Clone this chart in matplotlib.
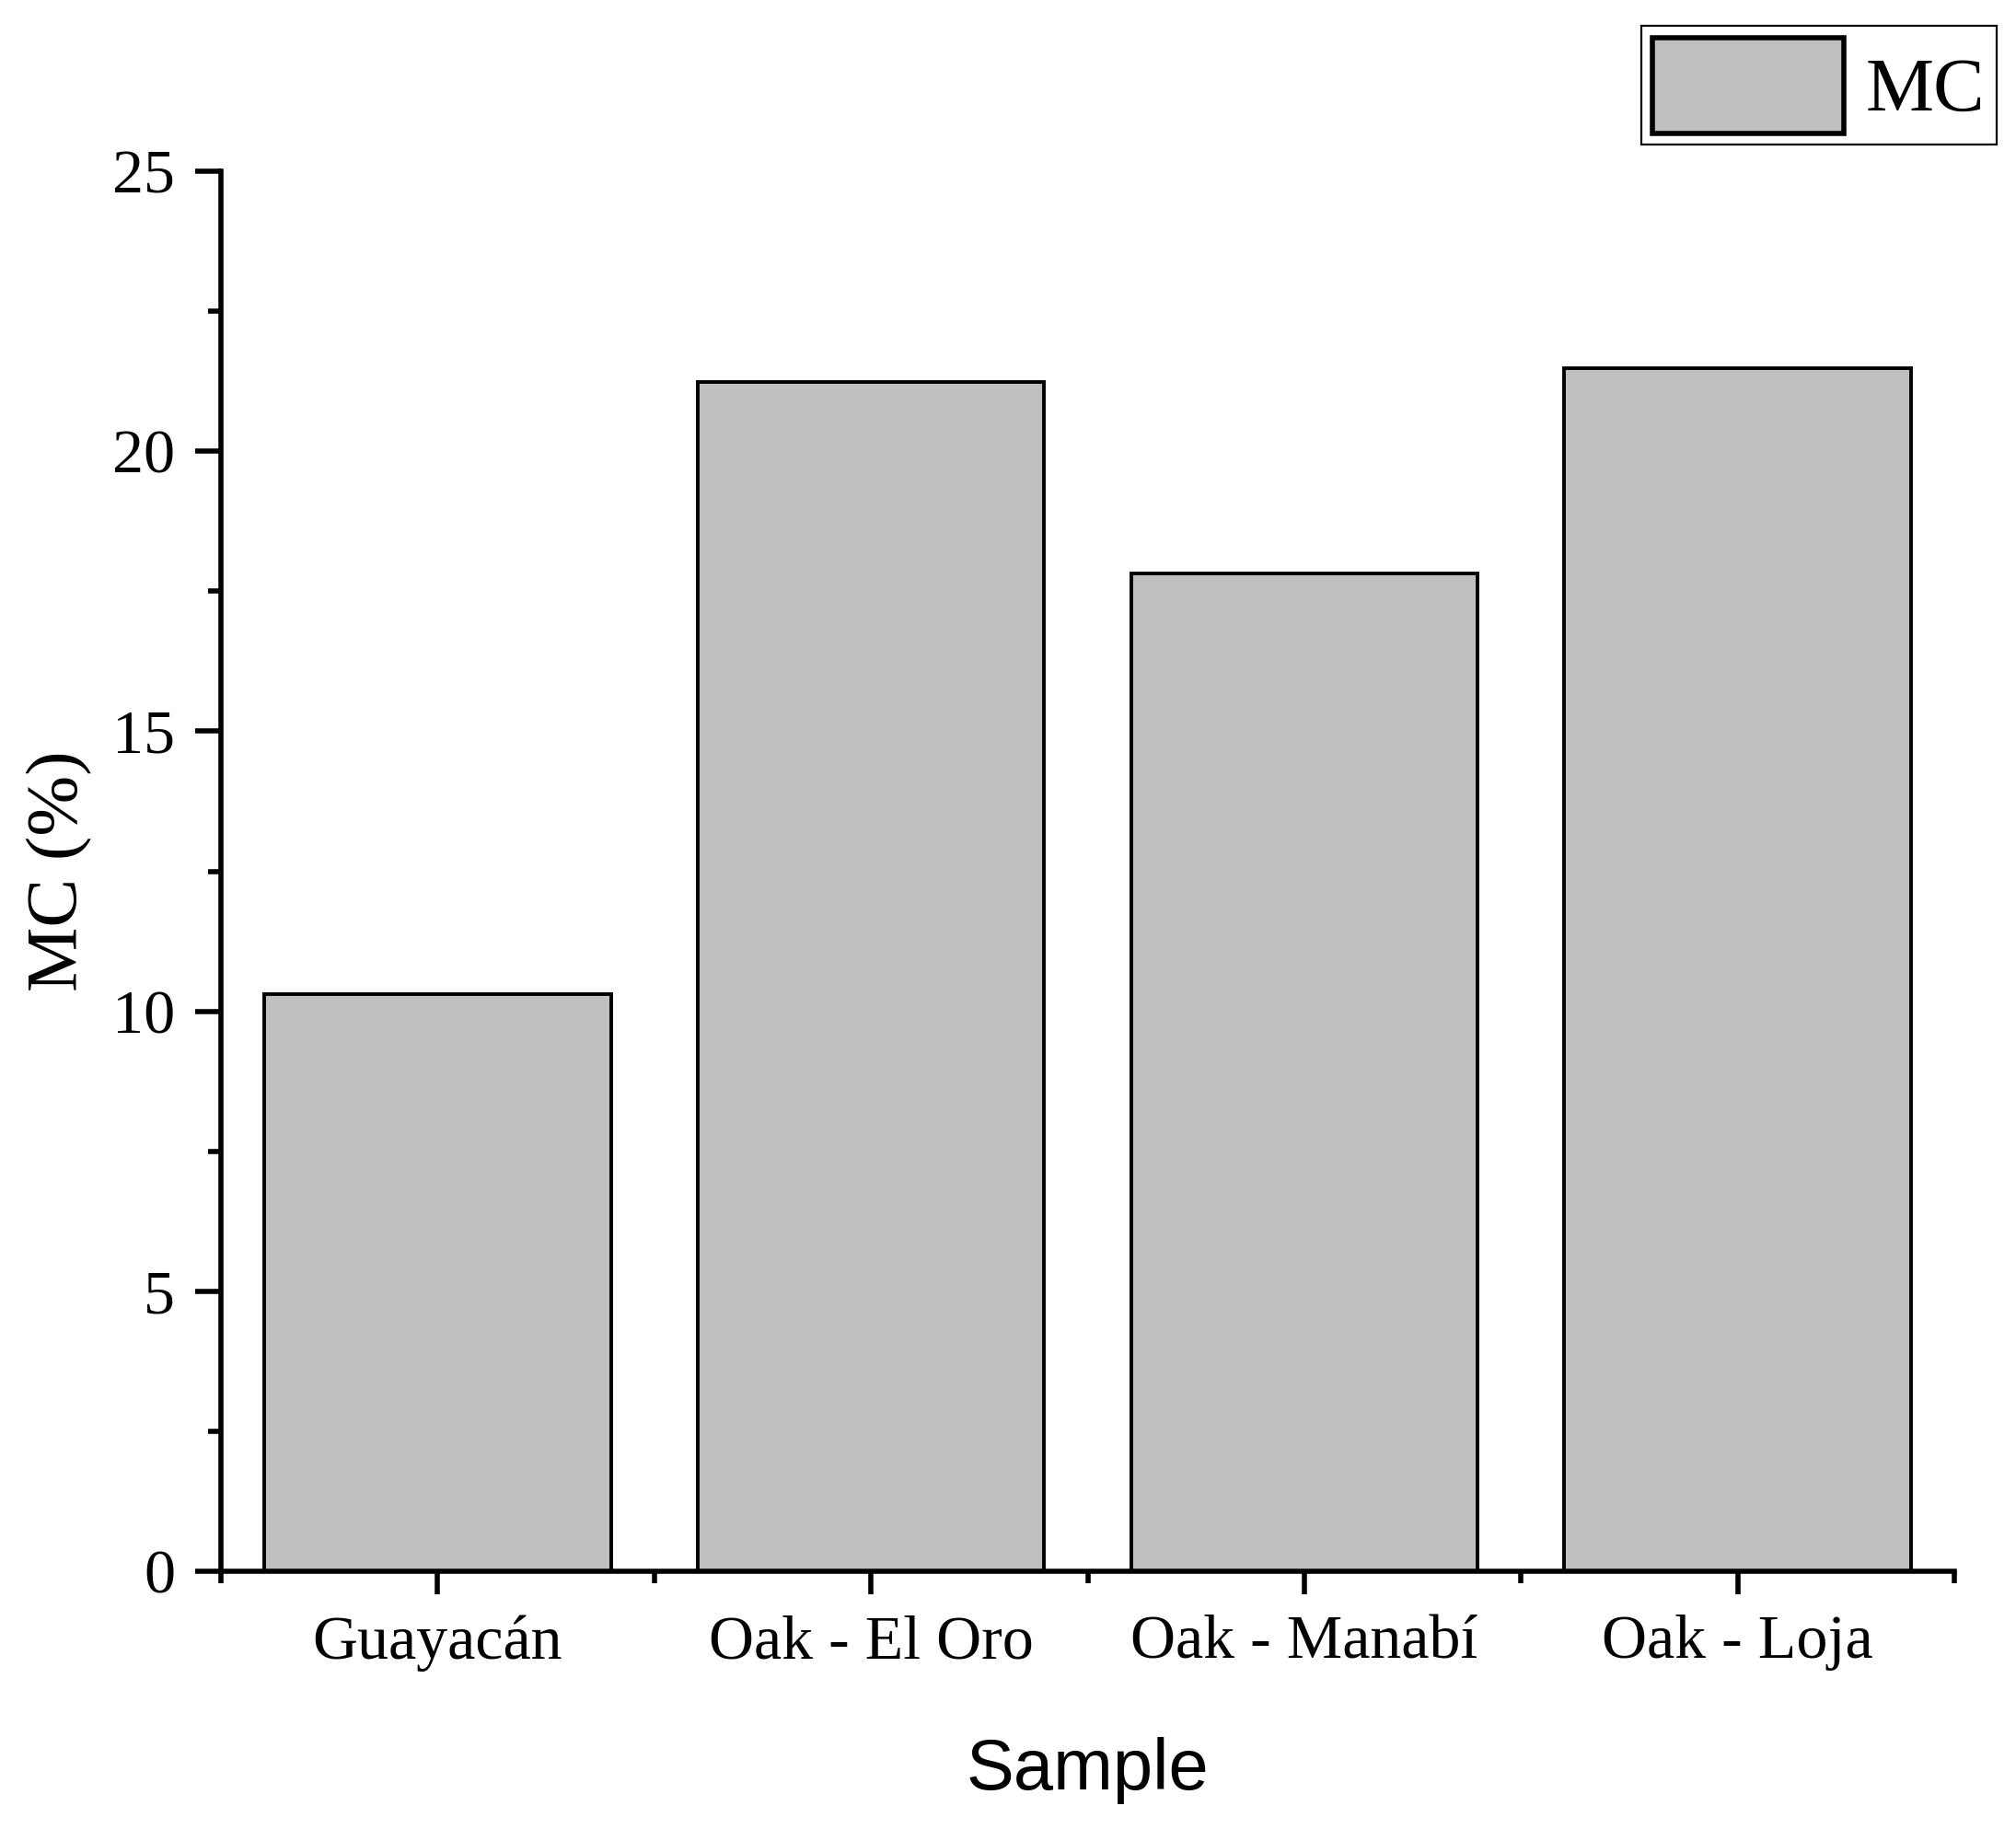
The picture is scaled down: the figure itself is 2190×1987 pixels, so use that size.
import numpy as np
import matplotlib.pyplot as plt
from matplotlib.ticker import MultipleLocator, FixedLocator

samples = ['Guayacán', 'Oak - El Oro', 'Oak - Manabí', 'Oak - Loja']
mc = [10.31, 21.23, 17.81, 21.49]

serif = 'Liberation Serif'
sans = 'Liberation Sans'

fig = plt.figure(figsize=(21.9, 19.87), dpi=100)
ax = fig.add_axes([0.1096, 0.1409, 0.9694 - 0.1096, 0.9064 - 0.1409])

x = np.arange(len(samples))
ax.bar(x, mc, width=0.8, color='#bfbfbf', edgecolor='black', linewidth=2.8, label='MC')

ax.set_xlim(-0.5, len(samples) - 0.5)
ax.set_ylim(0, 25)

for s in ['top', 'right']:
    ax.spines[s].set_visible(False)
for s in ['left', 'bottom']:
    ax.spines[s].set_linewidth(4.0)

ax.set_xticks(x)
ax.set_xticklabels(samples, family=serif, fontsize=49)
ax.xaxis.set_minor_locator(FixedLocator(np.arange(-0.5, len(samples), 1.0)))
ax.yaxis.set_major_locator(MultipleLocator(5))
ax.yaxis.set_minor_locator(MultipleLocator(2.5))
for lbl in ax.get_yticklabels():
    lbl.set_family(serif)
    lbl.set_fontsize(49)

ax.tick_params(axis='both', which='major', direction='out', width=4.0, pad=16)
ax.tick_params(axis='y', which='major', length=20)
ax.tick_params(axis='y', which='minor', length=10, width=4.0)
ax.tick_params(axis='x', which='major', length=18)
ax.tick_params(axis='x', which='minor', length=9, width=4.0)

ax.set_ylabel('MC (%)', family=serif, fontsize=57)
ax.yaxis.set_label_coords(-0.074, 0.5)
ax.set_xlabel('Sample', family=sans, fontsize=56)
ax.xaxis.set_label_coords(0.5, -0.118)

leg = ax.legend(loc='upper right', bbox_to_anchor=(2169 / 2190, 1 - 28 / 1987),
                bbox_transform=fig.transFigure, borderaxespad=0,
                fancybox=False, edgecolor='black', framealpha=1,
                prop={'family': serif, 'size': 60},
                handlelength=2.5, handleheight=1.55, borderpad=0.15,
                handletextpad=0.28)
leg.get_frame().set_linewidth(1.6)
for p in leg.get_patches():
    p.set_linewidth(4.0)

fig.savefig('out.png', dpi=100)
